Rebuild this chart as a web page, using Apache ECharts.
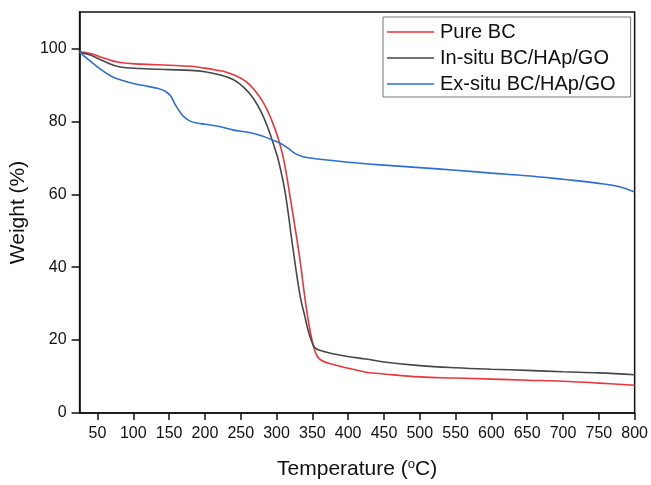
<!DOCTYPE html>
<html>
<head>
<meta charset="utf-8">
<script src="https://cdn.jsdelivr.net/npm/echarts@6/dist/echarts.min.js"></script>
<style>
  html, body { margin: 0; padding: 0; background: #fff; }
  #chart { width: 651px; height: 485px; }
</style>
</head>
<body>
<div id="chart"></div>
<script>
// values
var seriesNames = ['Pure BC', 'In-situ BC/HAp/GO', 'Ex-situ BC/HAp/GO'];

var pureTemp = [25, 40, 60, 80, 110, 150, 180, 200, 215, 230, 245, 258, 270, 282, 293, 302, 310, 320, 332, 340, 346, 352, 357, 363, 375, 400, 425, 450, 500, 550, 600, 650, 700, 750, 800];
var pureWeight = [99, 98.6, 97.3, 96.2, 95.7, 95.4, 95.1, 94.6, 94.1, 93.5, 92.4, 90.8, 88.4, 85.0, 80.4, 75.5, 69.5, 58, 43, 31, 23.4, 18, 15.5, 14.4, 13.5, 12.3, 11.2, 10.7, 9.9, 9.6, 9.3, 9.0, 8.7, 8.2, 7.6];

var inTemp = [25, 40, 60, 80, 110, 150, 180, 200, 220, 240, 255, 268, 279, 288, 296, 303, 312, 323, 333, 339, 345, 349, 353, 360, 380, 400, 425, 450, 500, 550, 600, 650, 700, 750, 800];
var inWeight = [99, 98.2, 96.4, 95.0, 94.5, 94.2, 94.0, 93.6, 92.8, 91.4, 89.2, 86.2, 82.4, 78.2, 73.6, 69, 60.5, 45, 32, 26.9, 22, 19.7, 18, 17.2, 16.2, 15.5, 14.8, 14, 13, 12.4, 12, 11.7, 11.3, 11, 10.5];

var exTemp = [25, 40, 55, 70, 85, 100, 120, 135, 145, 152, 158, 165, 172, 180, 190, 200, 220, 240, 260, 280, 295, 305, 315, 325, 335, 345, 360, 400, 450, 500, 550, 600, 650, 700, 750, 780, 800];
var exWeight = [99, 96.5, 94.2, 92.3, 91.2, 90.4, 89.6, 89, 88.2, 87, 84.8, 82.6, 81, 80, 79.5, 79.2, 78.6, 77.6, 77, 76, 74.8, 74, 72.8, 71.3, 70.4, 70, 69.6, 68.8, 68, 67.3, 66.6, 65.8, 65.1, 64.1, 63, 62, 60.6];

var xTicks = [50, 100, 150, 200, 250, 300, 350, 400, 450, 500, 550, 600, 650, 700, 750, 800];
var yTicks = [0, 20, 40, 60, 80, 100];

var colors = ['#e8363a', '#474747', '#2d6fd1'];

function pairs(xs, ys) {
  return xs.map(function (x, i) { return [x, ys[i]]; });
}

var font = 'Liberation Sans, Arial, sans-serif';
var axisLine = { show: true, lineStyle: { color: '#111', width: 1.5 } };

var option = {
  backgroundColor: '#fff',
  animation: false,
  color: colors,
  grid: {
    left: 79, right: 15, top: 12, bottom: 65,
    show: true, borderColor: '#111', borderWidth: 1.5
  },
  legend: {
    orient: 'vertical',
    left: 383,
    top: 17,
    padding: [5, 15, 3, 4],
    itemGap: 6,
    itemWidth: 47,
    itemHeight: 1.5,
    icon: 'rect',
    borderColor: '#777',
    borderWidth: 1,
    backgroundColor: '#fff',
    textStyle: { fontFamily: font, fontSize: 20, color: '#111', padding: [0, 0, 0, 1] },
    data: seriesNames
  },
  xAxis: {
    type: 'value',
    min: 25,
    max: 800,
    name: 'Temperature ({sup|o}C)',
    nameLocation: 'middle',
    nameGap: 45,
    nameTextStyle: {
      fontFamily: font, fontSize: 21, color: '#111',
      rich: { sup: { fontFamily: font, fontSize: 13, color: '#111', padding: [0, 0, 10, 0] } }
    },
    axisLine: axisLine,
    axisTick: { show: true, inside: false, length: 7, customValues: xTicks, lineStyle: { color: '#111', width: 1.5 } },
    axisLabel: { customValues: xTicks, margin: 13, fontFamily: font, fontSize: 16, color: '#111' },
    splitLine: { show: false }
  },
  yAxis: {
    type: 'value',
    min: 0,
    max: 110,
    name: 'Weight (%)',
    nameLocation: 'middle',
    nameGap: 46,
    nameTextStyle: { fontFamily: font, fontSize: 21, color: '#111' },
    axisLine: axisLine,
    axisTick: { show: true, inside: false, length: 8, customValues: yTicks, lineStyle: { color: '#111', width: 1.5 } },
    axisLabel: { customValues: yTicks, margin: 13, fontFamily: font, fontSize: 16, color: '#111' },
    splitLine: { show: false }
  },
  series: [
    {
      name: seriesNames[0], type: 'line', smooth: 0.4, symbol: 'none',
      lineStyle: { width: 1.6, color: colors[0] },
      data: pairs(pureTemp, pureWeight)
    },
    {
      name: seriesNames[1], type: 'line', smooth: 0.4, symbol: 'none',
      lineStyle: { width: 1.6, color: colors[1] },
      data: pairs(inTemp, inWeight)
    },
    {
      name: seriesNames[2], type: 'line', smooth: 0.4, symbol: 'none',
      lineStyle: { width: 1.6, color: colors[2] },
      data: pairs(exTemp, exWeight)
    }
  ]
};

var chart = echarts.init(document.getElementById('chart'));
chart.setOption(option);
</script>
</body>
</html>
